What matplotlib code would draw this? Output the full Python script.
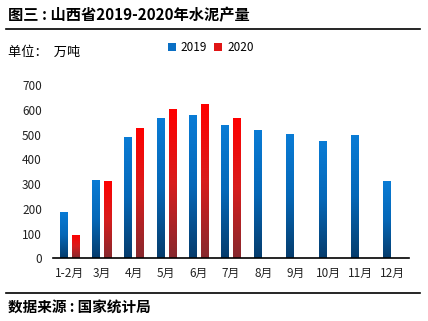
import numpy as np
import matplotlib
matplotlib.use("Agg")
import matplotlib.pyplot as plt
from matplotlib.colors import LinearSegmentedColormap
from matplotlib.patches import Rectangle

plt.rcParams['font.family'] = ['Noto Sans CJK SC', 'DejaVu Sans']

months = ["1-2月", "3月", "4月", "5月", "6月", "7月", "8月", "9月", "10月", "11月", "12月"]
y2019 = [188, 317, 491, 567, 577, 540, 519, 503, 475, 499, 313]
y2020 = [94, 313, 527, 604, 622, 567]

cmap19 = LinearSegmentedColormap.from_list("b", ["#063c6c", "#0568b8", "#0a7cd6"])
cmap20 = LinearSegmentedColormap.from_list("r", ["#87292e", "#d81d1d", "#ff0000"])

fig = plt.figure(figsize=(4.28, 3.21), dpi=100)
ax = fig.add_axes([0.1238, 0.1953, 0.8318, 0.5399])

w = 0.22
off = 0.185
grad = np.linspace(0, 1, 256).reshape(-1, 1)


def grad_bar(x, h, cmap):
    r = Rectangle((x - w / 2, 0), w, h, facecolor="none", edgecolor="none")
    ax.add_patch(r)
    im = ax.imshow(grad, cmap=cmap, origin="lower", aspect="auto",
                   extent=[x - w / 2, x + w / 2, 0, h], zorder=2)
    im.set_clip_path(r)


x = np.arange(len(months))
for i, v in enumerate(y2019):
    grad_bar(x[i] - off, v, cmap19)
for i, v in enumerate(y2020):
    grad_bar(x[i] + off, v, cmap20)

ax.set_xlim(-0.5, len(months) - 0.5)
ax.set_ylim(0, 700)
ax.set_yticks(range(0, 701, 100))
ax.set_xticks(x)
ax.set_xticklabels(months)
ax.tick_params(axis="both", length=0, labelsize=8.5, colors="#222222")
ax.tick_params(axis="x", pad=6)
ax.tick_params(axis="y", pad=8)
for s in ["top", "right", "left"]:
    ax.spines[s].set_visible(False)
ax.spines["bottom"].set_linewidth(1.2)

# legend
h1 = Rectangle((0, 0), 1, 1, facecolor="#0a6fc4")
h2 = Rectangle((0, 0), 1, 1, facecolor="#e01515")
fig.legend([h1, h2], ["2019", "2020"], loc="center", bbox_to_anchor=(0.492, 0.852),
           ncol=2, frameon=False, fontsize=8.5, handlelength=0.7, handleheight=0.7,
           handletextpad=0.4, columnspacing=0.6)

fig.text(0.019, 0.953, "图三 : 山西省2019-2020年水泥产量", fontsize=11,
         fontweight="bold", va="center", ha="left")
fig.add_artist(plt.Line2D([0.014, 0.981], [0.91, 0.91], color="black", lw=1.2))
fig.text(0.019, 0.838, "单位：  万吨", fontsize=9.5, va="center", ha="left")
fig.add_artist(plt.Line2D([0.014, 0.981], [0.088, 0.088], color="black", lw=1.2))
fig.text(0.019, 0.042, "数据来源 : 国家统计局", fontsize=10.5, fontweight="bold",
         va="center", ha="left")

fig.savefig("out.png", dpi=100)
